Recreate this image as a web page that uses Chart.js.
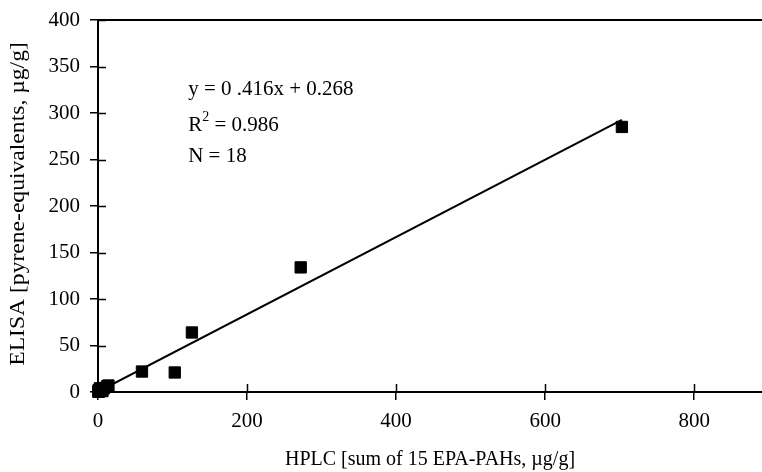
<!DOCTYPE html>
<html>
<head>
<meta charset="utf-8">
<script src="https://cdn.jsdelivr.net/npm/chart.js@4/dist/chart.umd.min.js"></script>
<style>
  html, body { margin: 0; padding: 0; background: #fff; }
  #wrap { width: 762px; height: 472px; }
</style>
</head>
<body>
<div id="wrap"><canvas id="c" width="762" height="472"></canvas></div>
<script>
// ---- data ----
const hplcValues  = [0.5, 1, 1.5, 2, 3, 0.8, 4, 5, 2.5, 6, 8, 12, 14, 59, 103, 126, 272, 703];
const elisaValues = [0.3, 0.5, 1, 0.8, 1.5, 2, 2, 3, 4, 1, 4, 6, 7, 22, 21, 64, 134, 285];
const fitX = [0, 703];
const fitY = [0.268, 292.7];
const xTicks = [0, 200, 400, 600, 800];
const yTicks = [0, 50, 100, 150, 200, 250, 300, 350, 400];
const xTitle = 'HPLC [sum of 15 EPA-PAHs, \u00b5g/g]';
const yTitle = 'ELISA [pyrene-equivalents, \u00b5g/g]';
const noteLines = ['y = 0 .416x + 0.268', 'R2 = 0.986', 'N = 18'];
const noteX = 121;              // data x where annotation starts
const noteY = [325, 287, 253];  // data y of each annotation line

const FONT = '"Liberation Serif", "Times New Roman", serif';

const points = hplcValues.map((v, i) => ({ x: v, y: elisaValues[i] }));
const fit = fitX.map((v, i) => ({ x: v, y: fitY[i] }));

const frame = {
  id: 'frame',
  afterDraw(chart) {
    const { ctx, chartArea: a, scales: { x, y } } = chart;
    ctx.save();
    ctx.strokeStyle = '#000';
    // top border
    ctx.lineWidth = 2;
    ctx.beginPath();
    ctx.moveTo(a.left, a.top);
    ctx.lineTo(a.right, a.top);
    ctx.stroke();
    // inner halves of tick marks
    ctx.lineWidth = 1.5;
    ctx.beginPath();
    yTicks.forEach(t => {
      const py = Math.round(y.getPixelForValue(t)) + 0.5;
      ctx.moveTo(a.left, py);
      ctx.lineTo(a.left + 8, py);
    });
    xTicks.forEach(t => {
      const px = Math.round(x.getPixelForValue(t)) + 0.5;
      ctx.moveTo(px, a.bottom);
      ctx.lineTo(px, a.bottom - 8);
    });
    ctx.stroke();
    // y-axis title (stretched along its length like the scan)
    ctx.fillStyle = '#000';
    ctx.save();
    ctx.translate(19, 204);
    ctx.rotate(-Math.PI / 2);
    ctx.scale(1.18, 1);
    ctx.font = '20px ' + FONT;
    ctx.textAlign = 'center';
    ctx.textBaseline = 'middle';
    ctx.fillText(yTitle, 0, 0);
    ctx.restore();
    // annotation
    ctx.textBaseline = 'middle';
    ctx.textAlign = 'left';
    const fs = 21;
    noteLines.forEach((line, i) => {
      const px = x.getPixelForValue(noteX);
      const py = y.getPixelForValue(noteY[i]);
      ctx.font = fs + 'px ' + FONT;
      if (line.startsWith('R2')) {
        ctx.fillText('R', px, py);
        const w = ctx.measureText('R').width;
        ctx.font = Math.round(fs * 0.68) + 'px ' + FONT;
        ctx.fillText('2', px + w, py - 8);
        const w2 = ctx.measureText('2').width;
        ctx.font = fs + 'px ' + FONT;
        ctx.fillText(line.slice(2), px + w + w2, py);
      } else {
        ctx.fillText(line, px, py);
      }
    });
    ctx.restore();
  }
};

new Chart(document.getElementById('c'), {
  type: 'scatter',
  data: {
    datasets: [
      {
        type: 'line',
        data: fit,
        borderColor: '#000',
        borderWidth: 2,
        pointRadius: 0,
        fill: false,
        tension: 0
      },
      {
        data: points,
        pointStyle: 'rect',
        pointRadius: 8,
        pointHoverRadius: 8,
        backgroundColor: '#000',
        borderColor: '#000',
        borderWidth: 1,
        clip: false
      }
    ]
  },
  options: {
    responsive: false,
    animation: false,
    events: [],
    layout: { autoPadding: false, padding: { top: 20, right: 0, left: 0, bottom: 0 } },
    plugins: { legend: { display: false }, tooltip: { enabled: false } },
    scales: {
      x: {
        type: 'linear',
        min: 0,
        max: 891,
        afterBuildTicks(s) { s.ticks = xTicks.map(v => ({ value: v })); },
        afterFit(s) { s.height = 80; s.paddingRight = 0; s.paddingLeft = 0; },
        border: { display: true, color: '#000', width: 2 },
        grid: { display: true, drawOnChartArea: false, drawTicks: true, tickLength: 8, color: '#000', lineWidth: 1.5 },
        ticks: { color: '#000', font: { family: FONT, size: 21 }, padding: 9, maxRotation: 0, autoSkip: false },
        title: { display: true, text: xTitle, color: '#000', font: { family: FONT, size: 20 }, padding: { top: 6, bottom: 0 } }
      },
      y: {
        type: 'linear',
        min: 0,
        max: 400,
        afterBuildTicks(s) { s.ticks = yTicks.map(v => ({ value: v })); },
        afterFit(s) { s.width = 98; s.paddingTop = 0; s.paddingBottom = 0; },
        border: { display: true, color: '#000', width: 2 },
        grid: { display: true, drawOnChartArea: false, drawTicks: true, tickLength: 8, color: '#000', lineWidth: 1.5 },
        ticks: { color: '#000', font: { family: FONT, size: 21 }, padding: 10, autoSkip: false },
        title: { display: false }
      }
    }
  },
  plugins: [frame]
});
</script>
</body>
</html>
